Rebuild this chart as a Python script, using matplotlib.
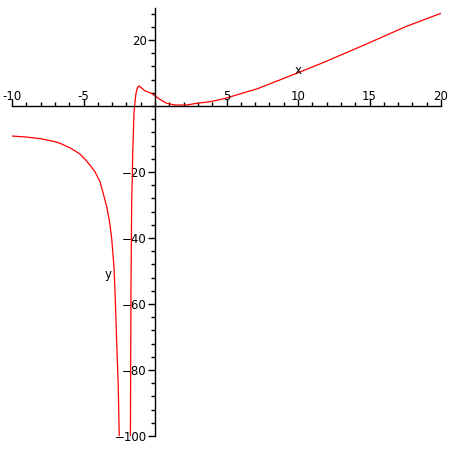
import matplotlib
matplotlib.use("Agg")
import matplotlib.pyplot as plt
from matplotlib.ticker import MultipleLocator, FixedLocator

# Left branch of the curve
left_x = [-10, -9, -8, -7, -6.64, -5.94, -5.59, -5.24, -4.9, -4.55, -4.2,
          -3.85, -3.62, -3.38, -3.2, -3.03, -2.87, -2.8, -2.73, -2.66, -2.57,
          -2.5]
left_y = [-9.1, -9.4, -9.9, -10.8, -11.3, -12.7, -13.6, -14.6, -16.1, -17.9,
          -19.9, -22.9, -26.5, -30.5, -34.5, -40.1, -48.7, -55.8, -64.8,
          -73.9, -85, -100]

# Right branch of the curve
right_x = [-1.72, -1.68, -1.63, -1.59, -1.56, -1.52, -1.47, -1.4, -1.33,
           -1.24, -1.12, -0.7, -0.23, 0.35, 0.82, 1.4, 2.2, 2.9, 3.85, 4.4,
           4.9, 7.2, 9.9, 11.9, 14.9, 17.5, 20]
right_y = [-100, -55.8, -28.5, -22.4, -14.3, -9.3, -2.2, 1.3, 3.8, 5.4, 6.1,
           4.6, 3.8, 2.0, 0.8, 0.3, 0.3, 0.8, 1.3, 1.8, 2.3, 5.3, 9.9, 13.4,
           19, 24, 28.1]

x_major = [-10, -5, 5, 10, 15, 20]
y_major = [20, -20, -40, -60, -80, -100]

W = H = 450
fig = plt.figure(figsize=(4.5, 4.5), dpi=100)
ax = fig.add_axes([12 / W, 14 / H, (441 - 12) / W, (436 - 8) / H])
ax.set_xlim(-10, 20)
ax.set_ylim(-100, 29.7)

ax.plot(left_x, left_y, color="#ff0000", lw=0.9)
ax.plot(right_x, right_y, color="#ff0000", lw=0.9)

for s in ["top", "right"]:
    ax.spines[s].set_visible(False)
ax.spines["left"].set_position(("data", 0))
ax.spines["bottom"].set_position(("data", 0))
for s in ["left", "bottom"]:
    ax.spines[s].set_linewidth(1.0)
    ax.spines[s].set_color("black")

ax.xaxis.set_major_locator(FixedLocator(x_major))
ax.xaxis.set_minor_locator(MultipleLocator(1))
ax.yaxis.set_major_locator(FixedLocator(y_major))
ax.yaxis.set_minor_locator(MultipleLocator(4))

ax.tick_params(axis="x", which="both", direction="in", top=False, bottom=True,
               labelbottom=False, labeltop=False)
ax.tick_params(axis="x", which="major", length=5, width=1)
ax.tick_params(axis="x", which="minor", length=3, width=1)
ax.tick_params(axis="y", which="major", direction="out", length=5, width=1,
               labelsize=8.5, pad=1)
ax.tick_params(axis="y", which="minor", direction="out", length=3, width=1)

# x tick labels above the axis
for v in x_major:
    ax.text(v, 0.8, str(v), ha="center", va="bottom", fontsize=8.5,
            transform=ax.transData)

ax.text(10, 10.9, "x", ha="center", va="center", fontsize=8.5)
ax.text(-3.3, -51, "y", ha="center", va="center", fontsize=8.5)

fig.savefig("out.png", dpi=100)
